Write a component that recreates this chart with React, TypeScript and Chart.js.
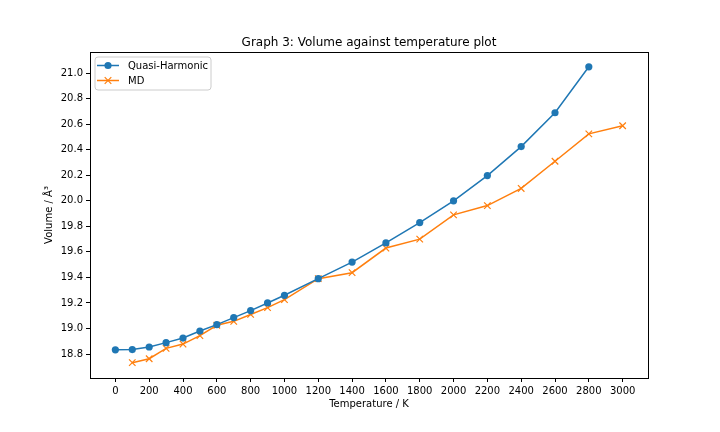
import React, { useEffect, useRef } from "react";
import { Chart, registerables } from "chart.js";

Chart.register(...registerables);

const temperaturesQH = [0, 100, 200, 300, 400, 500, 600, 700, 800, 900, 1000, 1200, 1400, 1600, 1800, 2000, 2200, 2400, 2600, 2800];
const volumesQH = [18.833, 18.835, 18.855, 18.889, 18.925, 18.98, 19.03, 19.085, 19.14, 19.2, 19.26, 19.39, 19.52, 19.67, 19.83, 20.0, 20.198, 20.425, 20.69, 21.05];
const temperaturesMD = [100, 200, 300, 400, 500, 600, 700, 800, 900, 1000, 1200, 1400, 1600, 1800, 2000, 2200, 2400, 2600, 2800, 3000];
const volumesMD = [18.732, 18.763, 18.844, 18.878, 18.944, 19.025, 19.056, 19.11, 19.163, 19.226, 19.39, 19.437, 19.63, 19.70, 19.89, 19.963, 20.097, 20.31, 20.525, 20.588];
const xTickValues = [0, 200, 400, 600, 800, 1000, 1200, 1400, 1600, 1800, 2000, 2200, 2400, 2600, 2800, 3000];
const yTickValues = [18.8, 19.0, 19.2, 19.4, 19.6, 19.8, 20.0, 20.2, 20.4, 20.6, 20.8, 21.0];

const TITLE = "Graph 3: Volume against temperature plot";
const X_LABEL = "Temperature / K";
const Y_LABEL = "Volume / Å³";
const FONT = "'DejaVu Sans', sans-serif";

const framePlugin = {
  id: "frame",
  afterDraw(chart: any) {
    const { ctx, chartArea: a } = chart;
    ctx.save();
    ctx.strokeStyle = "#000";
    ctx.lineWidth = 1;
    ctx.strokeRect(Math.round(a.left) + 0.5, Math.round(a.top) + 0.5, Math.round(a.right - a.left), Math.round(a.bottom - a.top));
    ctx.fillStyle = "#000";
    ctx.font = `12px ${FONT}`;
    ctx.textAlign = "center";
    ctx.textBaseline = "alphabetic";
    ctx.fillText(TITLE, (a.left + a.right) / 2, a.top - 6);
    ctx.font = `10px ${FONT}`;
    ctx.fillText(X_LABEL, (a.left + a.right) / 2, 407);
    ctx.save();
    ctx.translate(52, (a.top + a.bottom) / 2);
    ctx.rotate(-Math.PI / 2);
    ctx.fillText(Y_LABEL, 0, 0);
    ctx.restore();
    const lx = a.left + 5, ly = a.top + 5, lw = 116, lh = 33;
    ctx.beginPath();
    const r = 3;
    ctx.moveTo(lx + r, ly);
    ctx.arcTo(lx + lw, ly, lx + lw, ly + lh, r);
    ctx.arcTo(lx + lw, ly + lh, lx, ly + lh, r);
    ctx.arcTo(lx, ly + lh, lx, ly, r);
    ctx.arcTo(lx, ly, lx + lw, ly, r);
    ctx.closePath();
    ctx.fillStyle = "rgba(255,255,255,0.8)";
    ctx.fill();
    ctx.strokeStyle = "#cccccc";
    ctx.lineWidth = 1;
    ctx.stroke();
    chart.data.datasets.forEach((ds: any, i: number) => {
      const y = ly + 8.5 + i * 15;
      ctx.strokeStyle = ds.borderColor;
      ctx.lineWidth = 1.5;
      ctx.beginPath();
      ctx.moveTo(lx + 2, y);
      ctx.lineTo(lx + 24, y);
      ctx.stroke();
      const mx = lx + 13;
      if (ds.pointStyle === "circle") {
        ctx.fillStyle = ds.borderColor;
        ctx.beginPath();
        ctx.arc(mx, y, 3.6, 0, Math.PI * 2);
        ctx.fill();
      } else {
        ctx.beginPath();
        ctx.moveTo(mx - 3.3, y - 3.3);
        ctx.lineTo(mx + 3.3, y + 3.3);
        ctx.moveTo(mx - 3.3, y + 3.3);
        ctx.lineTo(mx + 3.3, y - 3.3);
        ctx.lineWidth = 1.2;
        ctx.stroke();
      }
      ctx.fillStyle = "#000";
      ctx.font = `10px ${FONT}`;
      ctx.textAlign = "left";
      ctx.textBaseline = "middle";
      ctx.fillText(ds.label, lx + 33, y + 0.5);
    });
    ctx.restore();
  },
};

export default function App() {
  const ref = useRef<HTMLCanvasElement | null>(null);
  useEffect(() => {
    if (!ref.current) return;
    const chart = new Chart(ref.current, {
      type: "line",
      data: {
        datasets: [
          {
            label: "Quasi-Harmonic",
            data: temperaturesQH.map((t, i) => ({ x: t, y: volumesQH[i] })),
            borderColor: "#1f77b4",
            backgroundColor: "#1f77b4",
            pointStyle: "circle",
            pointRadius: 3.6,
            pointBorderWidth: 0,
            borderWidth: 1.5,
            tension: 0,
          },
          {
            label: "MD",
            data: temperaturesMD.map((t, i) => ({ x: t, y: volumesMD[i] })),
            borderColor: "#ff7f0e",
            backgroundColor: "#ff7f0e",
            pointStyle: "crossRot",
            pointRadius: 4.6,
            pointBorderWidth: 1.2,
            borderWidth: 1.5,
            tension: 0,
          },
        ],
      },
      options: {
        animation: false,
        responsive: false,
        devicePixelRatio: 1,
        layout: { padding: { left: 0, right: 72, top: 52, bottom: 0 } },
        plugins: {
          legend: { display: false },
          title: { display: false },
          tooltip: { enabled: false },
        },
        scales: {
          x: {
            type: "linear",
            min: -150,
            max: 3150,
            afterBuildTicks: (s: any) => {
              s.ticks = xTickValues.map((v) => ({ value: v }));
            },
            afterFit: (s: any) => {
              s.height = 54;
            },
            grid: { drawOnChartArea: false, drawTicks: true, tickLength: 4, color: "#000", tickWidth: 1 },
            border: { display: false },
            ticks: { color: "#000", font: { family: FONT, size: 10 }, padding: 3, maxRotation: 0, autoSkip: false, callback: (v: any) => String(v) },
          },
          y: {
            type: "linear",
            min: 18.612,
            max: 21.166,
            afterBuildTicks: (s: any) => {
              s.ticks = yTickValues.map((v) => ({ value: v }));
            },
            afterFit: (s: any) => {
              s.width = 90;
            },
            grid: { drawOnChartArea: false, drawTicks: true, tickLength: 4, color: "#000", tickWidth: 1 },
            border: { display: false },
            ticks: { color: "#000", font: { family: FONT, size: 10 }, padding: 3, autoSkip: false, callback: (v: any) => Number(v).toFixed(1) },
          },
        },
      },
      plugins: [framePlugin],
    });
    return () => chart.destroy();
  }, []);
  return (
    <div style={{ position: "fixed", left: 0, top: 0, width: 720, height: 432, background: "#fff" }}>
      <canvas ref={ref} width={720} height={432} style={{ width: 720, height: 432 }} />
    </div>
  );
}
